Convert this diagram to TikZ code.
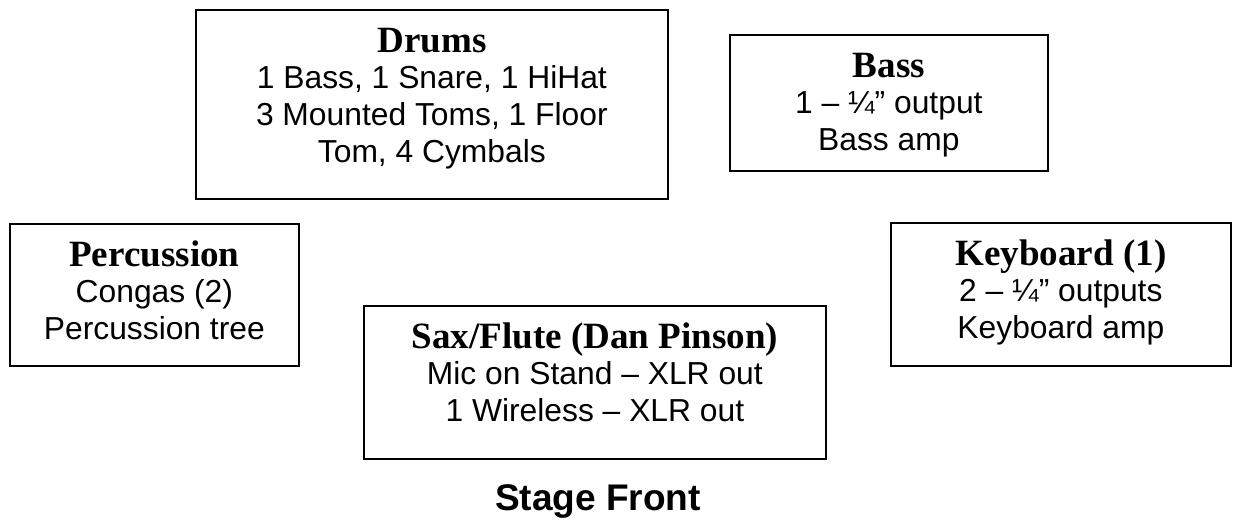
\documentclass[tikz,border=0pt]{standalone}
\usepackage{fontspec}
\setmainfont{Liberation Sans}
\newfontfamily\tnrfont{Liberation Serif}
\newcommand{\bodyfnt}{\fontsize{23.85pt}{27.4pt}\selectfont}
\newcommand{\headfnt}{\tnrfont\bfseries\fontsize{27.8pt}{27.4pt}\selectfont}
\newcommand{\boxtext}[3]{\parbox[c][#2][t]{#1}{\centering\lineskiplimit=-20pt\vspace*{6.9pt}\rule{0pt}{25pt}#3\par}}
\begin{document}
\begin{tikzpicture}[x=0.75pt,y=-0.75pt,
  box/.style={draw, line width=1.3pt, inner sep=0pt, anchor=north west, font=\bodyfnt}]
\useasboundingbox (0,0) rectangle (1233,519);
\node[box] (drums) at (195,9)
  {\boxtext{354pt}{141.75pt}{{\headfnt Drums}\\1 Bass, 1 Snare, 1 HiHat\\3 Mounted Toms, 1 Floor\\Tom, 4 Cymbals}};
\node[box] (bass) at (729,34)
  {\boxtext{238.5pt}{102pt}{{\headfnt Bass}\\1 – ¼” output\\Bass amp}};
\node[box] (perc) at (9,223)
  {\boxtext{216.75pt}{106.5pt}{{\headfnt Percussion}\\Congas (2)\\Percussion tree}};
\node[box] (keys) at (890,222)
  {\boxtext{255pt}{107.25pt}{{\headfnt Keyboard (1)}\\2 – ¼” outputs\\Keyboard amp}};
\node[box] (sax) at (363,305)
  {\boxtext{346.5pt}{114.75pt}{{\headfnt Sax/Flute (Dan Pinson)}\\Mic on Stand – XLR out\\1 Wireless – XLR out}};
\node[font=\bfseries\fontsize{27.8pt}{30pt}\selectfont, inner sep=0pt, anchor=base] (stage) at (598,510) {Stage Front};
\end{tikzpicture}
\end{document}
